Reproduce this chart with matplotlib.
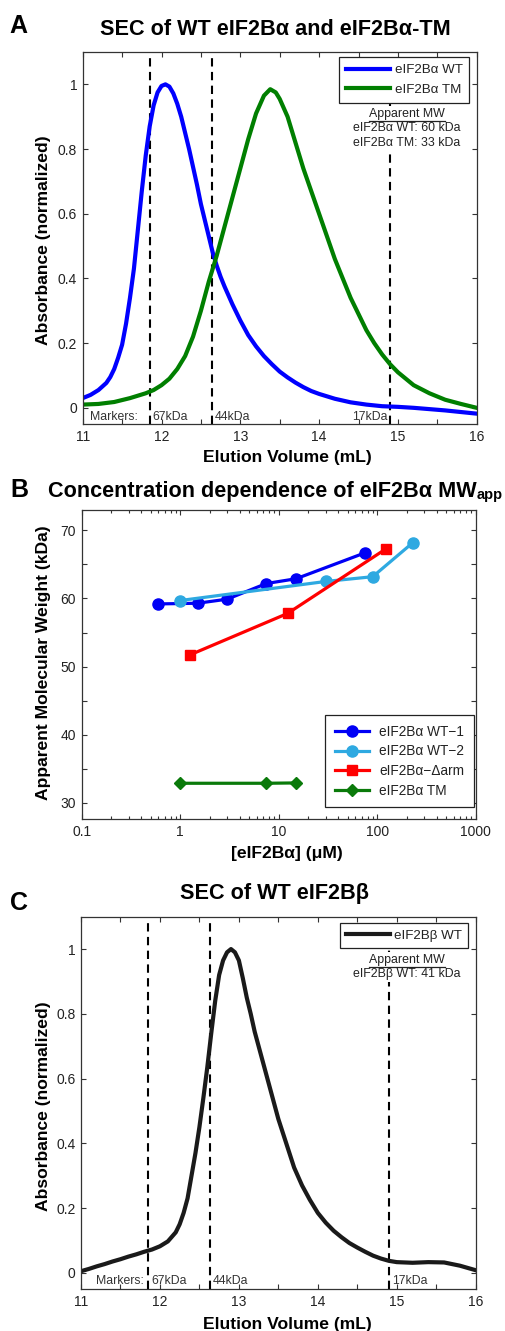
import matplotlib
matplotlib.use('Agg')
import matplotlib.pyplot as plt
from matplotlib.lines import Line2D
from matplotlib.ticker import MultipleLocator, FuncFormatter, LogLocator, NullFormatter, FixedLocator

plt.rcParams['font.family'] = ['Liberation Sans', 'DejaVu Sans']

W, H, DPI = 505, 1331, 100

# ---------------- Panel A data ----------------
vol_wt = [11.0, 11.1, 11.2, 11.3, 11.35, 11.4, 11.45, 11.5, 11.55, 11.6, 11.65, 11.7, 11.75, 11.8,
          11.85, 11.9, 11.95, 12.0, 12.05, 12.1, 12.15, 12.2, 12.25, 12.3, 12.35, 12.4, 12.45, 12.5,
          12.55, 12.6, 12.65, 12.7, 12.75, 12.8, 12.9, 13.0, 13.1, 13.2, 13.3, 13.4, 13.5, 13.6, 13.7,
          13.8, 13.9, 14.0, 14.2, 14.4, 14.6, 14.8, 15.0, 15.2, 15.4, 15.6, 15.8, 16.0]
wt_abs = [0.03, 0.04, 0.055, 0.077, 0.095, 0.12, 0.155, 0.195, 0.26, 0.34, 0.43, 0.55, 0.67, 0.78,
          0.87, 0.935, 0.975, 0.995, 1.0, 0.993, 0.972, 0.94, 0.9, 0.85, 0.8, 0.745, 0.69, 0.63,
          0.58, 0.53, 0.48, 0.44, 0.405, 0.375, 0.32, 0.27, 0.225, 0.19, 0.16, 0.135, 0.112, 0.094, 0.078,
          0.064, 0.052, 0.043, 0.028, 0.017, 0.01, 0.005, 0.003, 0.0, -0.004, -0.008, -0.013, -0.018]

vol_tm = [11.0, 11.2, 11.4, 11.6, 11.8, 11.9, 12.0, 12.1, 12.2, 12.3, 12.4, 12.5, 12.6, 12.7, 12.8,
          12.9, 13.0, 13.1, 13.2, 13.3, 13.38, 13.45, 13.5, 13.6, 13.7, 13.8, 13.9, 14.0, 14.1, 14.2,
          14.3, 14.4, 14.5, 14.6, 14.7, 14.8, 14.9, 15.0, 15.2, 15.4, 15.6, 15.8, 16.0]
tm_abs = [0.01, 0.012, 0.018, 0.03, 0.045, 0.055, 0.07, 0.09, 0.12, 0.16, 0.22, 0.3, 0.39, 0.47, 0.56,
          0.65, 0.74, 0.83, 0.91, 0.965, 0.985, 0.975, 0.955, 0.9, 0.82, 0.74, 0.67, 0.6, 0.53, 0.46,
          0.4, 0.34, 0.29, 0.24, 0.2, 0.165, 0.135, 0.11, 0.07, 0.045, 0.025, 0.012, 0.0]

marker_vols = [11.85, 12.64, 14.9]
marker_names = ['67kDa', '44kDa', '17kDa']

# ---------------- Panel B data ----------------
wt1_conc = [0.6, 1.5, 3.0, 7.5, 15.0, 75.0]
wt1_mw = [59.2, 59.3, 59.9, 62.2, 62.9, 66.7]
wt2_conc = [1.0, 30.0, 90.0, 230.0]
wt2_mw = [59.7, 62.5, 63.2, 68.2]
arm_conc = [1.25, 12.3, 123.0]
arm_mw = [51.7, 57.8, 67.3]
tmb_conc = [1.0, 7.5, 15.0]
tmb_mw = [32.85, 32.85, 32.9]

# ---------------- Panel C data ----------------
vol_c = [11.0, 11.1, 11.2, 11.3, 11.4, 11.5, 11.6, 11.7, 11.8, 11.9, 12.0, 12.1, 12.2,
         12.25, 12.3, 12.35, 12.4, 12.45, 12.5, 12.55, 12.6, 12.65, 12.7, 12.75, 12.8, 12.85, 12.9,
         12.95, 13.0, 13.05, 13.1, 13.15, 13.2,
         13.3, 13.4, 13.5, 13.6, 13.7, 13.8, 13.9, 14.0, 14.1, 14.2, 14.3, 14.4, 14.5, 14.6, 14.7,
         14.8, 14.9, 15.0, 15.2, 15.4, 15.6, 15.8, 16.0]
beta_abs = [0.005, 0.012, 0.02, 0.027, 0.035, 0.042, 0.05, 0.057, 0.065, 0.072, 0.082, 0.097, 0.125,
            0.15, 0.185, 0.23, 0.3, 0.37, 0.45, 0.54, 0.635, 0.74, 0.84, 0.92, 0.965, 0.99, 1.0,
            0.99, 0.965, 0.91, 0.85, 0.8, 0.745,
            0.655, 0.565, 0.475, 0.4, 0.325, 0.27, 0.225, 0.185, 0.155, 0.13, 0.11, 0.092, 0.078,
            0.065, 0.053, 0.044, 0.037, 0.033, 0.031, 0.033, 0.032, 0.022, 0.008]

abs_ticks = [0, 0.2, 0.4, 0.6, 0.8, 1.0]
abs_labels = ['0', '0.2', '0.4', '0.6', '0.8', '1']
conc_ticks = [0.1, 1, 10, 100, 1000]
conc_labels = ['0.1', '1', '10', '100', '1000']
mw_ticks = [30, 40, 50, 60, 70]

# ---------------- helpers ----------------
def fx(px):
    return px / W

def fy(py):
    return 1 - py / H

def rect(l, t, r, b):
    return [fx(l), fy(b), (r - l) / W, (b - t) / H]

TXT = '#222222'
SP = '#333333'

def style(ax):
    for s in ax.spines.values():
        s.set_linewidth(0.9)
        s.set_color(SP)
    ax.tick_params(which='both', direction='in', top=True, right=True, length=3.6,
                   width=0.8, color=SP, labelsize=10, labelcolor=TXT, pad=4)

def half_formatter(v, pos):
    if abs(v - round(v)) < 1e-6:
        return '%d' % round(v)
    return ''

fig = plt.figure(figsize=(W / DPI, H / DPI), dpi=DPI)

# ================= Panel A =================
axA = fig.add_axes(rect(82.7, 52, 476.7, 424))
for v in marker_vols:
    axA.axvline(v, color='k', lw=1.5, ls=(0, (4, 2.6)), zorder=1)
axA.plot(vol_wt, wt_abs, color='#0000FF', lw=3, label='eIF2Bα WT', zorder=2)
axA.plot(vol_tm, tm_abs, color='#007F00', lw=3, label='eIF2Bα TM', zorder=2)
axA.set_xlim(11, 16)
axA.set_ylim(-0.05, 1.1)
axA.xaxis.set_major_locator(MultipleLocator(0.5))
axA.xaxis.set_major_formatter(FuncFormatter(half_formatter))
axA.set_yticks(abs_ticks)
axA.set_yticklabels(abs_labels)
style(axA)
legA = axA.legend(loc='upper right', bbox_to_anchor=(0.981, 0.986), borderaxespad=0,
                  fontsize=9.6, handlelength=3.3, handletextpad=0.35, labelspacing=0.55,
                  borderpad=0.5, fancybox=False, framealpha=1, edgecolor='#222222')
legA.get_frame().set_linewidth(0.9)
for t in legA.get_texts():
    t.set_color(TXT)

# ================= Panel B =================
axB = fig.add_axes(rect(81.7, 510, 475.7, 819))
axB.plot(wt1_conc, wt1_mw, color='#0000F5', lw=2.3, marker='o', ms=8, label='eIF2Bα WT−1')
axB.plot(wt2_conc, wt2_mw, color='#2EA9E1', lw=2.3, marker='o', ms=8, label='eIF2Bα WT−2')
axB.plot(arm_conc, arm_mw, color='#FF0000', lw=2.3, marker='s', ms=7.5, label='eIF2Bα−Δarm')
axB.plot(tmb_conc, tmb_mw, color='#0A7A0A', lw=2.3, marker='D', ms=6.5, label='eIF2Bα TM')
axB.set_xscale('log')
axB.set_xlim(0.1, 1000)
axB.set_ylim(27.6, 73)
axB.xaxis.set_major_locator(FixedLocator(conc_ticks))
axB.xaxis.set_major_formatter(FuncFormatter(lambda v, p: conc_labels[conc_ticks.index(v)] if v in conc_ticks else ''))
axB.xaxis.set_minor_locator(LogLocator(base=10, subs=(2, 3, 4, 5, 6, 7, 8, 9), numticks=20))
axB.xaxis.set_minor_formatter(NullFormatter())
axB.yaxis.set_major_locator(FixedLocator(mw_ticks))
axB.yaxis.set_minor_locator(MultipleLocator(5))
style(axB)
axB.tick_params(which='minor', length=2.4)
axB.tick_params(axis='y', which='minor', length=3.6)
legB = axB.legend(loc='lower right', bbox_to_anchor=(0.9957, 0.038), borderaxespad=0,
                  fontsize=9.8, handlelength=2.5, handletextpad=0.8, labelspacing=0.42,
                  borderpad=0.7, numpoints=1, fancybox=False, framealpha=1, edgecolor='#222222')
legB.get_frame().set_linewidth(0.9)
for t in legB.get_texts():
    t.set_color(TXT)

# ================= Panel C =================
axC = fig.add_axes(rect(81, 916.7, 475.7, 1289))
for v in marker_vols:
    axC.axvline(v, color='k', lw=1.5, ls=(0, (4, 2.6)), zorder=1)
axC.plot(vol_c, beta_abs, color='#1A1A1A', lw=3, label='eIF2Bβ WT', zorder=2)
axC.set_xlim(11, 16)
axC.set_ylim(-0.05, 1.1)
axC.xaxis.set_major_locator(MultipleLocator(0.5))
axC.xaxis.set_major_formatter(FuncFormatter(half_formatter))
axC.set_yticks(abs_ticks)
axC.set_yticklabels(abs_labels)
style(axC)
legC = axC.legend(loc='upper right', bbox_to_anchor=(0.981, 0.982), borderaxespad=0,
                  fontsize=9.6, handlelength=3.3, handletextpad=0.35, borderpad=0.45,
                  fancybox=False, framealpha=1, edgecolor='#222222')
legC.get_frame().set_linewidth(0.9)
for t in legC.get_texts():
    t.set_color(TXT)

# ================= Text =================
TITLE = 15.6
LAB = 12.6
# panel letters
fig.text(fx(9), fy(33), 'A', fontsize=18, fontweight='bold', va='baseline', ha='left')
fig.text(fx(10), fy(497), 'B', fontsize=18, fontweight='bold', va='baseline', ha='left')
fig.text(fx(10), fy(910), 'C', fontsize=18, fontweight='bold', va='baseline', ha='left')

# titles
fig.text(fx(275), fy(35), 'SEC of WT eIF2Bα and eIF2Bα-TM', fontsize=TITLE, fontweight='bold',
         ha='center', va='baseline')
fig.text(fx(274), fy(899), 'SEC of WT eIF2Bβ', fontsize=TITLE, fontweight='bold',
         ha='center', va='baseline')
tB_main = fig.text(0, 0, 'Concentration dependence of eIF2Bα MW', fontsize=TITLE,
                   fontweight='bold', ha='left', va='baseline')
tB_sub = fig.text(0, 0, 'app', fontsize=10.5, fontweight='bold', ha='left', va='baseline')

# axis labels
for yb, txt in [(462.5, 'Elution Volume (mL)'), (858, '[eIF2Bα] (μM)'), (1329, 'Elution Volume (mL)')]:
    fig.text(fx(287), fy(yb), txt, fontsize=LAB, fontweight='bold', ha='center', va='baseline')
for yc, txt in [(240, 'Absorbance (normalized)'), (663, 'Apparent Molecular Weight (kDa)'),
                (1106, 'Absorbance (normalized)')]:
    fig.text(fx(48), fy(yc), txt, fontsize=LAB, fontweight='bold', ha='center', va='baseline',
             rotation=90, rotation_mode='anchor')

# marker annotations
MK = 8.8
GR = '#333333'
fig.text(fx(90), fy(419.5), 'Markers:', fontsize=MK, color=GR, va='baseline')
fig.text(fx(96), fy(1284), 'Markers:', fontsize=MK, color=GR, va='baseline')
for ax in (axA, axC):
    for i, (v, name) in enumerate(zip(marker_vols, marker_names)):
        if ax is axA and i == 2:
            ax.annotate(name, xy=(v, 0), xycoords=('data', 'axes fraction'),
                        xytext=(-2, 0), textcoords='offset points', fontsize=MK, color=GR,
                        ha='right', va='baseline', annotation_clip=False)
        else:
            ax.annotate(name, xy=(v, 0), xycoords=('data', 'axes fraction'),
                        xytext=(2, 0), textcoords='offset points', fontsize=MK, color=GR,
                        ha='left', va='baseline', annotation_clip=False)

fig.canvas.draw()
for ax, yb in [(axA, 419.5), (axC, 1284)]:
    for ann in ax.texts:
        bottom_px = ax.get_position().y0 * H
        target = fy(yb) * H
        ann.xyann = (ann.xyann[0], (target - bottom_px) * 72 / DPI)

# Apparent MW boxes
AM = 8.9
def app_box(x, y_top, lines):
    return fig.text(fx(x), fy(y_top), '\n'.join(lines), fontsize=AM, color=TXT, ha='center',
                    va='top', linespacing=1.25, zorder=6,
                    bbox=dict(facecolor='white', edgecolor='none', pad=1.5))

tA = app_box(407, 108, ['Apparent MW', 'eIF2Bα WT: 60 kDa', 'eIF2Bα TM: 33 kDa'])
tC = app_box(407, 954, ['Apparent MW', 'eIF2Bβ WT: 41 kDa'])

fig.canvas.draw()
r = fig.canvas.get_renderer()
# B title composition
w1 = tB_main.get_window_extent(r).width
w2 = tB_sub.get_window_extent(r).width
x0 = 275 - (w1 + w2) / 2
tB_main.set_position((fx(x0), fy(497)))
tB_sub.set_position((fx(x0 + w1 + 0.5), fy(499)))

# underline "Apparent MW"
for y_ul in [120.5, 967]:
    meas = fig.text(0, 0, 'Apparent MW', fontsize=AM)
    wpx = meas.get_window_extent(r).width
    meas.remove()
    fig.add_artist(Line2D([fx(407 - wpx / 2), fx(407 + wpx / 2)], [fy(y_ul), fy(y_ul)],
                          color=TXT, lw=0.9, zorder=7))

fig.savefig('out.png', dpi=DPI)
